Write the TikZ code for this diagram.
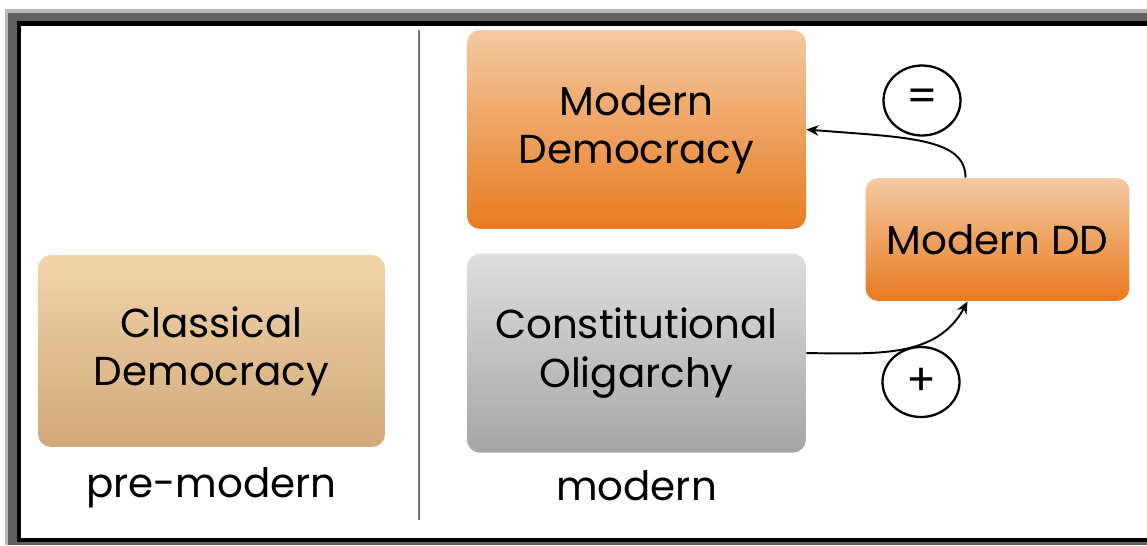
\documentclass[tikz,border=0pt]{standalone}
\usepackage{fontspec}
\setmainfont{Poppins}
\usepackage{tikz}
\usetikzlibrary{shapes.geometric, arrows.meta, positioning}

\definecolor{tantop}{RGB}{241,212,172}
\definecolor{tanbot}{RGB}{209,169,120}
\definecolor{orgtop}{RGB}{244,202,162}
\definecolor{orgbot}{RGB}{232,122,32}
\definecolor{grytop}{RGB}{222,222,222}
\definecolor{grybot}{RGB}{166,166,166}

\begin{document}
\begin{tikzpicture}[
    x=0.02cm, y=-0.02cm,
    node distance=0.48cm and 1.2cm,
    every node/.style={font=\fontsize{23}{27.5}\selectfont},
    era/.style={rectangle, rounded corners=0.26cm, draw=none, align=center, minimum width=6.78cm, minimum height=3.98cm},
    oldbox/.style={era, top color=tantop, bottom color=tanbot, minimum width=6.94cm, minimum height=3.84cm},
    newbox/.style={era, top color=orgtop, bottom color=orgbot},
    olibox/.style={era, top color=grytop, bottom color=grybot},
    ddbox/.style={newbox, minimum width=5.28cm, minimum height=2.46cm},
    sign/.style={ellipse, draw=black, line width=1.3pt, minimum width=1.54cm, minimum height=1.4cm, inner sep=0pt, font=\fontsize{25}{28}\selectfont},
    lbl/.style={anchor=base},
    arrow/.style={-{Stealth[length=7pt, width=6pt]}, line width=1.1pt}
]
\useasboundingbox (0,0) rectangle (1147,545);

% --- frame ---
\fill[black!28] (5,9) rectangle (1147,545);
\fill[black!62] (8,13) rectangle (1147,545);
\fill[black] (17,21) rectangle (1147,542);
\fill[white] (21,26) rectangle (1147,538);

% --- pre-modern ---
\node[oldbox] (classical) at (211.5,351) {Classical\\Democracy};
\node[lbl] (pre) at (211.5,497) {pre-modern};

\draw[black!55, line width=0.9pt] (419,30) -- (419,520);

% --- modern ---
\node[newbox] (moddem) at (636.5,129.5) {Modern\\Democracy};
\node[olibox, below=of moddem] (oligarchy) {Constitutional\\Oligarchy};
\node[lbl] (mod) at (636.5,500) {modern};

\node[ddbox] (moddd) at (997.5,239.5) {Modern DD};

% --- signs ---
\node[sign] (eq) at (922,100.5) {=};
\node[sign] (plus) at (921,382) {+};

% --- connections ---
\draw[arrow] ([xshift=-0.64cm]moddd.north) .. controls +(0,-40) and +(100,8) .. (moddem.east);
\draw[arrow] (oligarchy.east) to[out=0, in=-118] ([xshift=-0.6cm]moddd.south);
\end{tikzpicture}
\end{document}
